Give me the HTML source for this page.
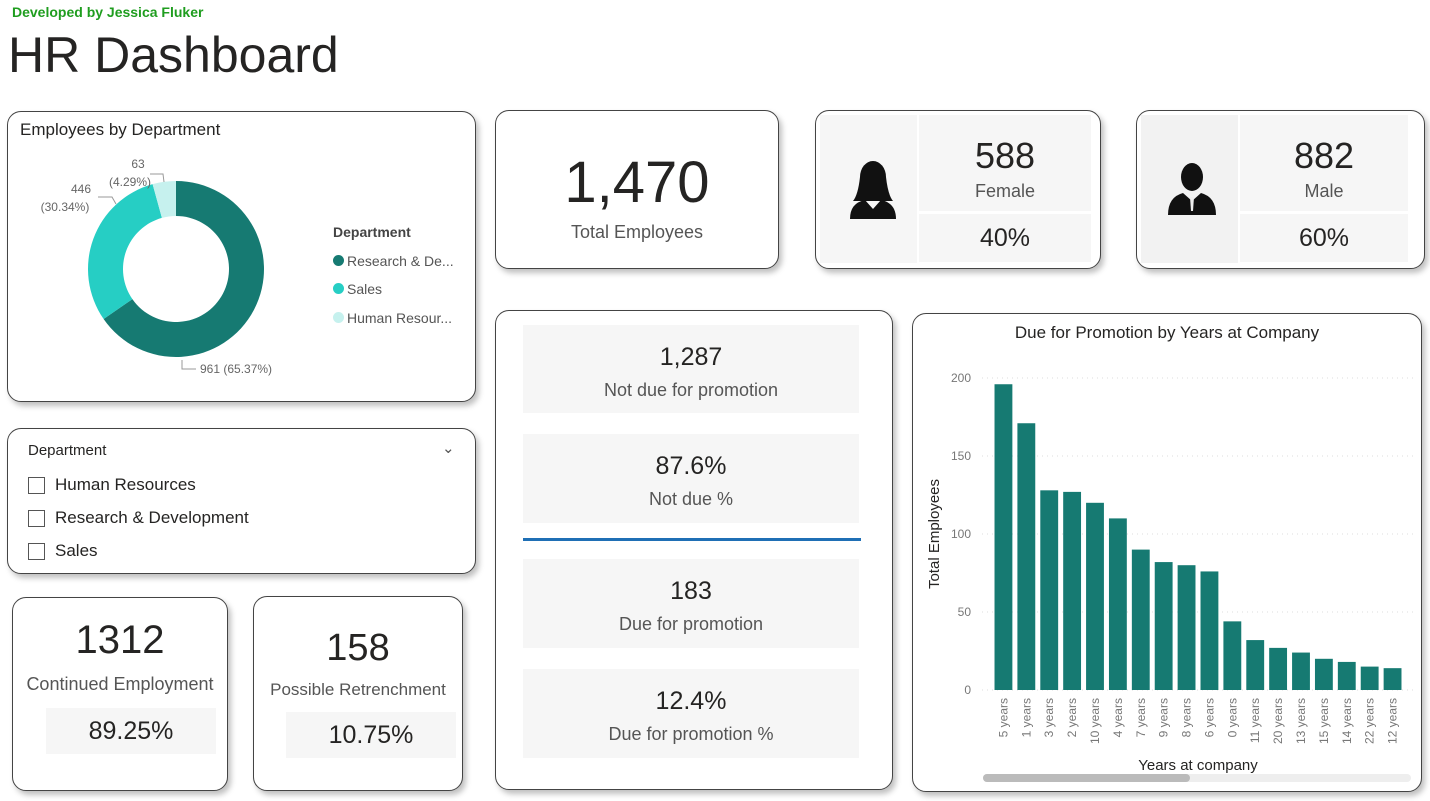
<!DOCTYPE html>
<html><head><meta charset="utf-8">
<style>
*{box-sizing:border-box;margin:0;padding:0}
body{width:1430px;height:801px;background:#fff;font-family:"Liberation Sans",sans-serif;position:relative;overflow:hidden;color:#252423}
.card{position:absolute;background:#fff;border:1.5px solid #444;border-radius:14px;box-shadow:3px 4px 6px rgba(0,0,0,.25)}
.tile{position:absolute;background:#f6f6f6;text-align:center}
.abs{position:absolute}
.big{font-size:30px;color:#252423}
.lbl{font-size:18px;color:#555}
.cb{display:inline-block;width:17px;height:17px;border:1px solid #555;vertical-align:middle;margin-right:10px}
</style></head><body>
<div class="abs" style="left:12px;top:4px;font-size:14px;font-weight:bold;color:#1f9d1f">Developed by Jessica Fluker</div>
<div class="abs" style="left:8px;top:26px;font-size:50px;color:#252423">HR Dashboard</div>

<div class="card" style="left:7px;top:111px;width:469px;height:291px">
<div class="abs" style="left:12px;top:8px;font-size:17px">Employees by Department</div>
<svg class="abs" style="left:0;top:0" width="469" height="291" id="donut"></svg>
<div class="abs" style="left:325px;top:106px;font-size:14px;color:#555;line-height:28.5px">
<div style="font-weight:bold;color:#444">Department</div>
<div><span style="display:inline-block;width:11px;height:11px;border-radius:50%;background:#167a72;margin-right:3px"></span>Research &amp; De...</div>
<div><span style="display:inline-block;width:11px;height:11px;border-radius:50%;background:#26cec4;margin-right:3px"></span>Sales</div>
<div><span style="display:inline-block;width:11px;height:11px;border-radius:50%;background:#c6f1ee;margin-right:3px"></span>Human Resour...</div>
</div>
</div>

<div class="card" style="left:7px;top:428px;width:469px;height:146px">
<div class="abs" style="left:20px;top:13px;font-size:15px">Department</div>
<div class="abs" style="left:434px;top:10px;font-size:15px;color:#555">&#8964;</div>
<div class="abs" style="left:20px;top:39px;font-size:17px;line-height:33px">
<div><span class="cb"></span>Human Resources</div>
<div><span class="cb"></span>Research &amp; Development</div>
<div><span class="cb"></span>Sales</div>
</div></div>

<div class="card" style="left:12px;top:597px;width:216px;height:194px">
<div class="abs" style="left:0;width:100%;top:20px;text-align:center;font-size:40px">1312</div>
<div class="abs lbl" style="left:0;width:100%;top:76px;text-align:center">Continued Employment</div>
<div class="tile" style="left:33px;top:110px;width:170px;height:46px;font-size:25px;line-height:46px">89.25%</div>
</div>
<div class="card" style="left:253px;top:596px;width:210px;height:195px">
<div class="abs" style="left:0;width:100%;top:30px;text-align:center;font-size:38px">158</div>
<div class="abs" style="left:0;width:100%;top:83px;text-align:center;font-size:17px;color:#555">Possible Retrenchment</div>
<div class="tile" style="left:32px;top:115px;width:170px;height:46px;font-size:25px;line-height:46px">10.75%</div>
</div>

<div class="card" style="left:495px;top:110px;width:284px;height:159px">
<div class="abs" style="left:0;width:100%;top:38px;text-align:center;font-size:58px">1,470</div>
<div class="abs lbl" style="left:0;width:100%;top:111px;text-align:center">Total Employees</div>
</div>

<div class="card" style="left:815px;top:110px;width:286px;height:159px">
<div class="tile" style="left:4px;top:4px;width:97px;height:148px">
<svg width="97" height="148" viewBox="0 0 97 148"><ellipse cx="53" cy="62" rx="13" ry="16" fill="#111"/><path d="M40 62 Q38 80 33 86 L73 86 Q68 80 66 62Z" fill="#111"/><path d="M30 104 Q30 88 45 85 L53 94 L61 85 Q76 88 76 104Z" fill="#111"/></svg></div>
<div class="tile" style="left:103px;top:4px;width:172px;height:96px"><div style="font-size:36px;margin-top:20px">588</div><div class="lbl" style="margin-top:4px">Female</div></div>
<div class="tile" style="left:103px;top:103px;width:172px;height:48px;font-size:25px;line-height:48px">40%</div>
</div>
<div class="card" style="left:1136px;top:110px;width:289px;height:159px">
<div class="tile" style="left:4px;top:4px;width:97px;height:148px;background:#f2f2f2">
<svg width="97" height="148" viewBox="0 0 97 148"><ellipse cx="51" cy="62" rx="11" ry="14" fill="#111"/><path d="M27 100 Q27 82 42 78 L51 86 L60 78 Q75 82 75 100Z" fill="#111"/><path d="M49 82 L53 82 L52 96 L50 96Z" fill="#eee"/></svg></div>
<div class="tile" style="left:103px;top:4px;width:168px;height:96px"><div style="font-size:36px;margin-top:20px">882</div><div class="lbl" style="margin-top:4px">Male</div></div>
<div class="tile" style="left:103px;top:103px;width:168px;height:48px;font-size:25px;line-height:48px">60%</div>
</div>

<div class="card" style="left:495px;top:310px;width:398px;height:480px">
<div class="tile" style="left:27px;top:14px;width:336px;height:88px"><div style="font-size:25px;margin-top:18px">1,287</div><div class="lbl" style="margin-top:8px">Not due for promotion</div></div>
<div class="tile" style="left:27px;top:123px;width:336px;height:89px"><div style="font-size:25px;margin-top:18px">87.6%</div><div class="lbl" style="margin-top:8px">Not due %</div></div>
<div class="abs" style="left:27px;top:227px;width:338px;height:3px;background:#1f6fb5"></div>
<div class="tile" style="left:27px;top:248px;width:336px;height:89px"><div style="font-size:25px;margin-top:18px">183</div><div class="lbl" style="margin-top:8px">Due for promotion</div></div>
<div class="tile" style="left:27px;top:358px;width:336px;height:89px"><div style="font-size:25px;margin-top:18px">12.4%</div><div class="lbl" style="margin-top:8px">Due for promotion %</div></div>
</div>

<div class="card" style="left:912px;top:313px;width:510px;height:479px">
<svg id="bars" class="abs" style="left:-1.5px;top:-1.5px" width="510" height="479"></svg>
</div>

<script>
const NS="http://www.w3.org/2000/svg";
function mk(p,t,a){const e=document.createElementNS(NS,t);for(const k in a)e.setAttribute(k,a[k]);p.appendChild(e);return e;}
// donut data
const deptNames=["Research & Development","Sales","Human Resources"];
const deptValues=[961,446,63];
const deptColors=["#167a72","#26cec4","#c6f1ee"];
(function(){
 const s=document.getElementById('donut');const cx=168,cy=157,R=88,r=53;
 const tot=deptValues.reduce((a,b)=>a+b,0);let a0=0;
 deptValues.forEach((v,i)=>{
  const a1=a0+v/tot*2*Math.PI;
  const p=(a,rad)=>[cx+rad*Math.sin(a),cy-rad*Math.cos(a)];
  const [x1,y1]=p(a0,R),[x2,y2]=p(a1,R),[x3,y3]=p(a1,r),[x4,y4]=p(a0,r);
  const lg=(a1-a0)>Math.PI?1:0;
  const el=mk(s,'path',{d:`M${x1} ${y1}A${R} ${R} 0 ${lg} 1 ${x2} ${y2}L${x3} ${y3}A${r} ${r} 0 ${lg} 0 ${x4} ${y4}Z`,fill:deptColors[i]});
  
  
  a0=a1;
 });
 const lab=(x,y,t,anchor)=>{const e=mk(s,'text',{x:x,y:y,'font-size':12,fill:'#666','text-anchor':anchor||'start'});e.textContent=t;
  
  };
 const pc=v=>(v/tot*100).toFixed(2)+'%';
 lab(192,261,deptValues[0]+' ('+pc(deptValues[0])+')');
 mk(s,'path',{d:'M174 248 L174 257 L188 257',stroke:'#999',fill:'none'});
 lab(73,81,String(deptValues[1]),'middle');lab(57,99,'('+pc(deptValues[1])+')','middle');
 mk(s,'path',{d:'M90 85 L104 85 L108 92',stroke:'#999',fill:'none'});
 lab(130,56,String(deptValues[2]),'middle');lab(122,74,'('+pc(deptValues[2])+')','middle');
 mk(s,'path',{d:'M142 62 L155 62 L156 70',stroke:'#999',fill:'none'});
})();
// bar data
const yearCats=["5 years","1 years","3 years","2 years","10 years","4 years","7 years","9 years","8 years","6 years","0 years","11 years","20 years","13 years","15 years","14 years","22 years","12 years"];
const yearValues=[196,171,128,127,120,110,90,82,80,76,44,32,27,24,20,18,15,14];
const yTicks=[0,50,100,150,200];
(function(){
 const s=document.getElementById('bars');
 const x0=80,x1=492,yb=377,yt=65,ymax=200;
 const Y=v=>yb-(v/ymax)*(yb-yt);
 const step=(x1-x0)/yearCats.length,bw=step*0.78;
 const t=mk(s,'text',{x:255,y:25,'font-size':17,fill:'#252423','text-anchor':'middle'});t.textContent='Due for Promotion by Years at Company';
 
 yTicks.forEach(v=>{
  mk(s,'line',{x1:x0-10,x2:x1+10,y1:Y(v),y2:Y(v),stroke:'#ddd','stroke-dasharray':'1 4'});
  const e=mk(s,'text',{x:59,y:Y(v)+4,'font-size':12,fill:'#777','text-anchor':'end'});e.textContent=v;
  
 });
 yearValues.forEach((v,i)=>{
  const x=x0+i*step+(step-bw)/2;
  const r=mk(s,'rect',{x:x,y:Y(v),width:bw,height:yb-Y(v),fill:'#167a72'});
  
  
  const tx=x+bw/2+4,ty=yb+8;
  const e=mk(s,'text',{x:tx,y:ty,'font-size':12,fill:'#777','text-anchor':'end',transform:`rotate(-90 ${tx} ${ty})`});
  e.textContent=yearCats[i];
  
 });
 const yl=mk(s,'text',{x:27,y:221,'font-size':15,fill:'#252423','text-anchor':'middle',transform:'rotate(-90 27 221)'});yl.textContent='Total Employees';
 
 const xl=mk(s,'text',{x:286,y:457,'font-size':15,fill:'#252423','text-anchor':'middle'});xl.textContent='Years at company';
 
 mk(s,'rect',{x:71,y:461,width:428,height:8,rx:4,fill:'#eee'});
 const sb=mk(s,'rect',{x:71,y:461,width:207,height:8,rx:4,fill:'#bbb'});
 
})();
</script>
</body></html>
